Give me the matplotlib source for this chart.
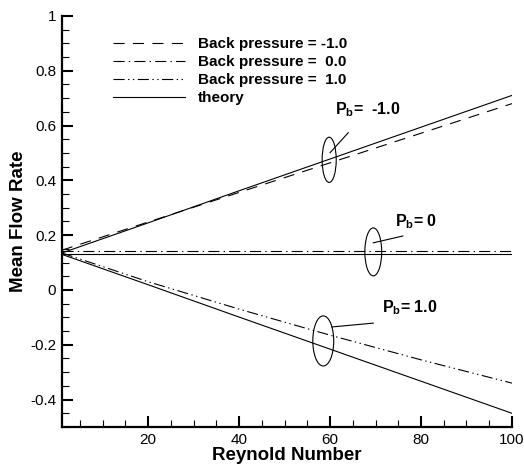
import matplotlib
matplotlib.use("Agg")
import matplotlib.pyplot as plt
from matplotlib.patches import Ellipse
from matplotlib.ticker import MultipleLocator

plt.rcParams['font.family'] = ['Liberation Sans', 'DejaVu Sans']
plt.rcParams['mathtext.fontset'] = 'custom'
plt.rcParams['mathtext.rm'] = 'Liberation Sans'
plt.rcParams['mathtext.bf'] = 'Liberation Sans:bold'
plt.rcParams['lines.scale_dashes'] = False

# Reynold number samples and mean flow rates
re_vals = [1, 20, 40, 60, 80, 100]
pb_m1 = [0.145, 0.248, 0.356, 0.464, 0.572, 0.680]
pb_0 = [0.141, 0.141, 0.141, 0.141, 0.141, 0.141]
pb_p1 = [0.135, 0.030, -0.070, -0.165, -0.255, -0.340]
theory_m1 = [0.135, 0.245, 0.362, 0.478, 0.594, 0.710]
theory_0 = [0.130, 0.130, 0.130, 0.130, 0.130, 0.130]
theory_p1 = [0.130, 0.019, -0.099, -0.216, -0.333, -0.450]

labels = ["Back pressure = -1.0", "Back pressure =  0.0",
          "Back pressure =  1.0", "theory"]

fig = plt.figure(figsize=(5.24, 4.69), dpi=100)
ax = fig.add_axes([0.118, 0.0896, 0.859, 0.8764])

lw = 0.8
l1, = ax.plot(re_vals, pb_m1, color='black', lw=lw, linestyle=(0, (8, 6)))
l2, = ax.plot(re_vals, pb_0, color='black', lw=lw, linestyle=(0, (8, 3, 1, 3)))
l3, = ax.plot(re_vals, pb_p1, color='black', lw=lw,
              linestyle=(0, (8, 2.5, 1, 2.5, 1, 2.5)))
l4, = ax.plot(re_vals, theory_m1, color='black', lw=lw)
ax.plot(re_vals, theory_0, color='black', lw=lw)
ax.plot(re_vals, theory_p1, color='black', lw=lw)

# ellipses marking each group
for cx, cy, w, h in [(59.8, 0.475, 3.1, 0.165), (69.5, 0.139, 3.7, 0.175),
                     (58.5, -0.186, 4.6, 0.183)]:
    ax.add_patch(Ellipse((cx, cy), w, h, fill=False, color='black', lw=lw))

# leader lines
ax.plot([60.0, 64.0], [0.501, 0.574], color='black', lw=lw)
ax.plot([69.5, 76.0], [0.172, 0.197], color='black', lw=lw)
ax.plot([60.4, 69.5], [-0.135, -0.121], color='black', lw=lw)

ax.text(61.1, 0.658, r"$\mathbf{P_b}$=  -1.0", fontsize=11.5, fontweight='bold', va='center')
ax.text(74.3, 0.249, r"$\mathbf{P_b}$= 0", fontsize=11.5, fontweight='bold', va='center')
ax.text(71.4, -0.066, r"$\mathbf{P_b}$= 1.0", fontsize=11.5, fontweight='bold', va='center')

leg = ax.legend([l1, l2, l3, l4], labels, loc='upper left',
                bbox_to_anchor=(0.113, 0.949), frameon=False,
                handlelength=4.7, handletextpad=0.9, labelspacing=0.27,
                borderpad=0, borderaxespad=0,
                prop={'weight': 'bold', 'size': 11})

ax.set_xlim(1, 100)
ax.set_ylim(-0.5, 1.0)
ax.set_xticks([20, 40, 60, 80, 100])
ax.xaxis.set_minor_locator(MultipleLocator(5))
ax.set_yticks([-0.4, -0.2, 0, 0.2, 0.4, 0.6, 0.8, 1.0])
ax.set_yticklabels(["-0.4", "-0.2", "0", "0.2", "0.4", "0.6", "0.8", "1"])
ax.yaxis.set_minor_locator(MultipleLocator(0.05))

for side in ['top', 'right']:
    ax.spines[side].set_visible(False)
for side in ['left', 'bottom']:
    ax.spines[side].set_linewidth(1.6)

ax.tick_params(which='major', direction='in', length=8, width=1.5,
               labelsize=11, pad=4)
ax.tick_params(which='minor', direction='in', length=5, width=0.8)

ax.set_xlabel("Reynold Number", fontsize=13.5, fontweight='bold', labelpad=0)
ax.set_ylabel("Mean Flow Rate", fontsize=13.5, fontweight='bold', labelpad=2)

fig.savefig("out.png", dpi=100)
